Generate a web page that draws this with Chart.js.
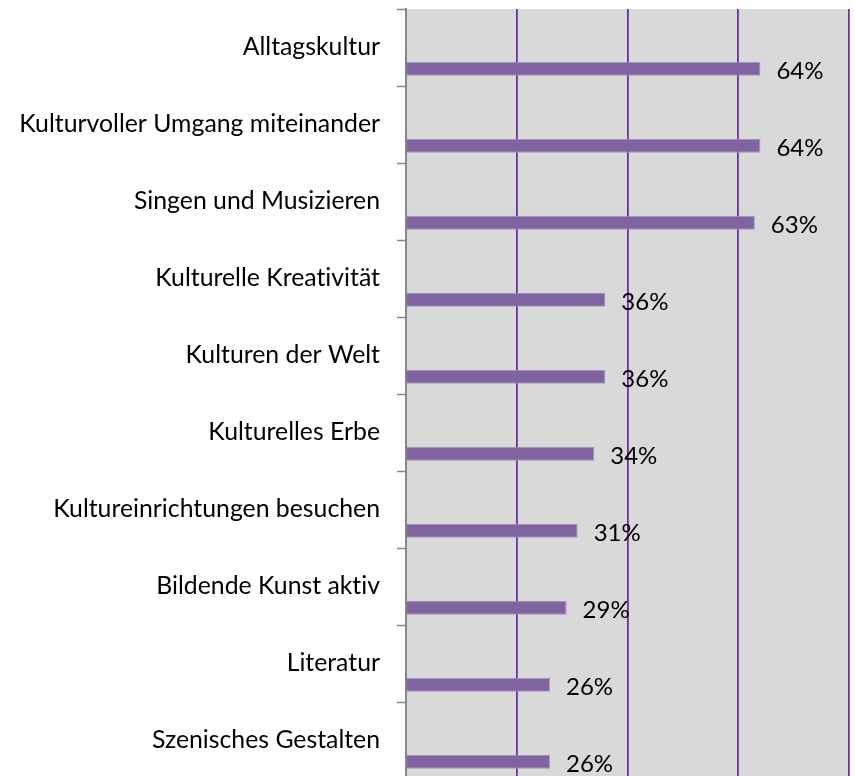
<!DOCTYPE html>
<html>
<head>
<meta charset="utf-8">
<script src="https://cdn.jsdelivr.net/npm/chart.js@4"></script>
<style>
  html, body { margin: 0; padding: 0; background: #ffffff; overflow: hidden; }
  #wrap { width: 854px; height: 800px; }
</style>
</head>
<body>
<div id="wrap"><canvas id="c" width="854" height="800"></canvas></div>
<script>
const categories = [
  "Alltagskultur",
  "Kulturvoller Umgang miteinander",
  "Singen und Musizieren",
  "Kulturelle Kreativität",
  "Kulturen der Welt",
  "Kulturelles Erbe",
  "Kultureinrichtungen besuchen",
  "Bildende Kunst aktiv",
  "Literatur",
  "Szenisches Gestalten"
];
const values = [64, 64, 63, 36, 36, 34, 31, 29, 26, 26];
const emptySeriesA = [0, 0, 0, 0, 0, 0, 0, 0, 0, 0];
const emptySeriesB = [0, 0, 0, 0, 0, 0, 0, 0, 0, 0];
const xTicks = [0, 20, 40, 60, 80];

const FONT = "Lato";
const LABEL_SIZE = 24.8;
const VALUE_SIZE = 24;

const bgPlugin = {
  id: 'plotBg',
  beforeDraw(chart) {
    const {ctx, chartArea: a} = chart;
    try { ctx.textRendering = 'optimizeSpeed'; } catch (e) {}
    ctx.save();
    ctx.fillStyle = '#D9D9D9';
    ctx.fillRect(a.left, a.top, a.right - a.left, a.bottom - a.top);
    ctx.restore();
  }
};

const labelPlugin = {
  id: 'valueLabels',
  afterDatasetsDraw(chart) {
    const {ctx} = chart;
    const meta = chart.getDatasetMeta(2);
    ctx.save();
    ctx.font = VALUE_SIZE + 'px ' + FONT;
    ctx.fillStyle = '#000000';
    ctx.textAlign = 'left';
    ctx.textBaseline = 'alphabetic';
    meta.data.forEach((bar, i) => {
      ctx.fillText(values[i] + '%', bar.x + 16, bar.y + 10);
    });
    ctx.restore();
  }
};

new Chart(document.getElementById('c'), {
  type: 'bar',
  data: {
    labels: categories,
    datasets: [
      { data: emptySeriesA, backgroundColor: 'rgba(0,0,0,0)', borderWidth: 0 },
      { data: emptySeriesB, backgroundColor: 'rgba(0,0,0,0)', borderWidth: 0 },
      { data: values, backgroundColor: '#8064A2', borderColor: '#A595C0', borderWidth: 1 }
    ]
  },
  options: {
    indexAxis: 'y',
    responsive: false,
    animation: false,
    events: [],
    categoryPercentage: 0.826,
    barPercentage: 0.66,
    layout: { padding: { top: 9, right: 5, bottom: 21, left: 0 } },
    plugins: {
      legend: { display: false },
      tooltip: { enabled: false },
      title: { display: false }
    },
    scales: {
      x: {
        type: 'linear',
        position: 'bottom',
        min: 0,
        max: 80,
        afterBuildTicks(scale) { scale.ticks = xTicks.map(v => ({ value: v })); },
        afterFit(scale) {
          scale.height = 0;
          scale.paddingLeft = 0; scale.paddingRight = 0;
          scale.paddingTop = 0; scale.paddingBottom = 0;
        },
        ticks: { display: false },
        border: { display: false },
        grid: {
          drawTicks: false,
          lineWidth: 1.8,
          color: (ctx) => (ctx.tick && ctx.tick.value === 0) ? 'rgba(0,0,0,0)' : '#7030A0'
        }
      },
      y: {
        type: 'category',
        position: 'left',
        afterFit(scale) {
          scale.width = 406;
          scale.paddingTop = 0; scale.paddingBottom = 0;
          scale.paddingLeft = 0; scale.paddingRight = 0;
        },
        ticks: {
          color: '#000000',
          padding: 17,
          autoSkip: false,
          font: { family: FONT, size: LABEL_SIZE }
        },
        border: { display: true, color: '#868686', width: 2 },
        grid: {
          offset: true,
          drawOnChartArea: false,
          drawTicks: true,
          tickLength: 9,
          tickWidth: 1.5,
          color: '#868686'
        }
      }
    }
  },
  plugins: [bgPlugin, labelPlugin]
});
</script>
</body>
</html>
